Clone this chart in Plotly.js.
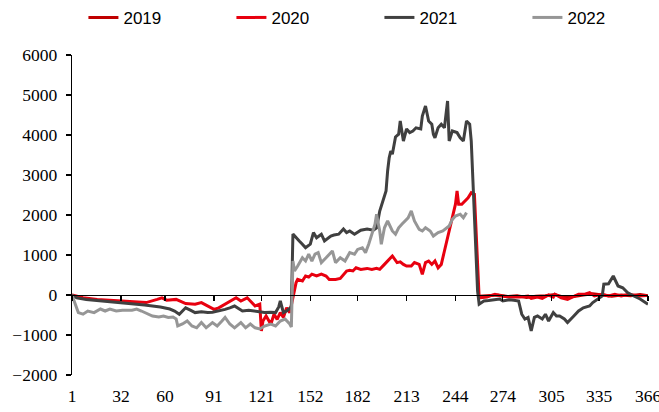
<!DOCTYPE html>
<html>
<head>
<meta charset="utf-8">
<script src="https://cdn.plot.ly/plotly-3.0.1.min.js"></script>
<style>html,body{margin:0;padding:0;background:#fff;}#chart{width:659px;height:412px;}</style>
</head>
<body>
<div id="chart"></div>
<script>
// Day-of-year tick labels
const tickDays = [1, 32, 60, 91, 121, 152, 182, 213, 244, 274, 305, 335, 366];
const tickLabels = ["1", "32", "60", "91", "121", "152", "182", "213", "244", "274", "305", "335", "366"];

const seriesNames = ["2019", "2020", "2021", "2022"];

// 2019
const days2019 = [259, 265, 271, 277, 283, 289, 295, 301, 307, 313, 319, 325, 331, 337, 343, 349, 355, 361, 366];
const vals2019 = [-30, -10, 0, -40, -20, -60, -30, -20, 10, -60, -40, 0, 30, 0, -30, 0, -20, 10, -20];

// 2020
const days2020 = [1, 8, 17, 25, 33, 42, 48, 55, 58, 61, 67, 73, 79, 83, 87, 91, 94, 98, 102, 105,
  108, 112, 114, 117, 120, 121, 122, 124, 127, 129, 131, 133, 135, 137, 139, 140, 142, 143, 144, 147,
  149, 151, 153, 156, 159, 162, 164, 168, 171, 173, 175, 177, 179, 181, 184, 188, 191, 194, 196, 199,
  202, 204, 207, 209, 211, 213, 216, 218, 221, 223, 225, 227, 229, 231, 233, 235, 237, 240, 242, 244,
  245, 246, 248, 250, 252, 254, 256, 259, 264, 269, 273, 279, 285, 290, 292, 296, 299, 303, 306, 307,
  311, 315, 319, 322, 326, 329, 332, 337, 341, 345, 349, 354, 360, 365];
const vals2020 = [0, -70, -110, -130, -150, -175, -190, -110, -70, -130, -110, -215, -230, -190, -275, -360, -320, -230, -150, -70,
  -150, -70, -150, -275, -230, -900, -650, -525, -730, -480, -610, -440, -560, -320, -440, -230, 100, 310, 390, 350,
  475, 450, 520, 475, 520, 475, 390, 390, 415, 520, 600, 615, 600, 680, 640, 665, 640, 665, 640, 765,
  890, 975, 810, 830, 765, 725, 725, 810, 765, 515, 810, 850, 765, 850, 680, 765, 1100, 1600, 1930, 2270,
  2600, 2270, 2270, 2350, 2430, 2560, 2520, -70, -50, 20, -25, -50, -50, -25, -85, -50, -85, 0, -50, 20,
  -70, -110, -25, 20, 20, 60, -25, 20, -25, 20, -25, 20, -25, -10];

// 2021
const days2021 = [1, 4, 10, 16, 21, 26, 31, 36, 42, 47, 52, 57, 63, 66, 69, 73, 76, 79, 83, 87,
  90, 94, 98, 101, 104, 107, 109, 113, 117, 120, 123, 127, 130, 132, 133, 134, 135, 137, 139, 140,
  141, 143, 145, 147, 149, 152, 154, 156, 159, 161, 165, 167, 170, 173, 175, 177, 180, 184, 188, 192,
  194, 196, 198, 200, 201, 202, 203, 204, 206, 208, 209, 210, 211, 213, 215, 217, 219, 222, 223, 225,
  227, 229, 230, 231, 233, 235, 237, 239, 240, 242, 245, 247, 249, 251, 253, 254, 256, 258, 259, 262,
  265, 268, 272, 274, 278, 281, 284, 286, 288, 290, 292, 294, 296, 299, 301, 303, 306, 308, 310, 313,
  315, 319, 322, 325, 329, 331, 334, 337, 338, 341, 344, 347, 350, 353, 357, 361, 366];
const vals2021 = [0, -70, -110, -130, -150, -170, -190, -200, -230, -250, -275, -300, -350, -400, -480, -320, -380, -440, -420, -440,
  -430, -400, -360, -320, -275, -350, -400, -380, -400, -420, -440, -430, -440, -300, -150, -300, -440, -400, -320, -300,
  1525, 1430, 1350, 1270, 1180, 1270, 1560, 1430, 1520, 1350, 1475, 1500, 1520, 1650, 1560, 1600, 1520, 1620, 1650, 1620,
  1680, 2100, 2350, 2600, 3100, 3430, 3600, 3520, 3950, 4020, 4350, 4100, 3850, 4150, 4060, 4100, 4180, 4150, 4475, 4725,
  4350, 4270, 4020, 3930, 4180, 4270, 4180, 4850, 3850, 4100, 4060, 3930, 3850, 4350, 4270, 3850, 1770, 100, -230, -150,
  -140, -130, -100, -150, -120, -130, -150, -480, -600, -560, -900, -560, -525, -600, -480, -650, -440, -525, -525, -600,
  -690, -525, -400, -320, -275, -190, -100, -25, 270, 280, 475, 225, 180, 60, -25, -100, -230];

// 2022
const days2022 = [1, 3, 5, 8, 11, 15, 19, 22, 25, 29, 33, 39, 42, 45, 49, 52, 56, 59, 62, 65,
  67, 68, 71, 74, 77, 80, 83, 86, 90, 93, 96, 98, 101, 104, 108, 111, 114, 117, 120, 123,
  127, 130, 133, 136, 139, 140, 141, 142, 144, 147, 149, 151, 153, 155, 157, 159, 162, 166, 168, 171,
  174, 177, 180, 182, 185, 187, 189, 191, 193, 194, 196, 197, 199, 201, 204, 206, 208, 210, 212, 214,
  216, 218, 221, 223, 225, 228, 230, 233, 236, 240, 242, 244, 247, 249, 251];
const vals2022 = [0, -200, -440, -480, -400, -440, -350, -400, -350, -400, -380, -380, -350, -400, -480, -525, -550, -525, -560, -550,
  -600, -775, -725, -650, -775, -820, -690, -820, -690, -775, -650, -560, -725, -820, -690, -820, -725, -820, -850, -775,
  -725, -775, -650, -600, -725, -800, 850, 600, 725, 930, 850, 1020, 850, 1020, 1060, 810, 930, 1100, 810, 930,
  850, 1060, 1020, 1140, 1180, 1060, 1270, 1520, 1770, 2020, 1600, 1270, 1680, 1850, 1600, 1520, 1680, 1770, 1850, 1930,
  2100, 1850, 1640, 1600, 1680, 1600, 1475, 1560, 1600, 1725, 1890, 1975, 2020, 1930, 2060];

const colors = ["#C00000", "#E8000F", "#404040", "#969696"];
const allDays = [days2019, days2020, days2021, days2022];
const allVals = [vals2019, vals2020, vals2021, vals2022];
// the last series is drawn on the overlaid label axis (same range) so it stays on top
const xAxisRef = ["x", "x", "x", "x2"];

const traces = seriesNames.map((name, i) => ({
  type: "scatter",
  mode: "lines",
  name: name,
  x: allDays[i],
  y: allVals[i],
  xaxis: xAxisRef[i],
  yaxis: "y",
  line: { color: colors[i], width: 3 },
  hoverinfo: "x+y+name"
}));

const tickFont = { family: "Liberation Serif, Times New Roman, serif", size: 17.5, color: "#000" };

const layout = {
  width: 659,
  height: 412,
  margin: { l: 72, r: 11, t: 55, b: 37, autoexpand: false },
  paper_bgcolor: "#fff",
  plot_bgcolor: "#fff",
  showlegend: true,
  legend: {
    orientation: "h",
    x: -0.001,
    xanchor: "left",
    y: 1.116,
    yanchor: "middle",
    indentation: 12,
    entrywidth: 91,
    entrywidthmode: "pixels",
    font: { family: "Liberation Sans, Arial, sans-serif", size: 17, color: "#000" },
    bgcolor: "rgba(0,0,0,0)"
  },
  // axis drawn along the zero value: line and tick marks only
  xaxis: {
    anchor: "free",
    position: 0.25,
    range: [1, 366],
    tickmode: "array",
    tickvals: tickDays,
    showticklabels: false,
    showline: true,
    linecolor: "#000",
    linewidth: 1.3,
    ticks: "outside",
    ticklen: 5,
    tickcolor: "#000",
    tickwidth: 1.3,
    showgrid: false,
    zeroline: false,
    fixedrange: true
  },
  // axis at the bottom carrying the day labels
  xaxis2: {
    overlaying: "x",
    anchor: "y",
    side: "bottom",
    range: [1, 366],
    tickmode: "array",
    tickvals: tickDays,
    ticktext: tickLabels,
    showline: false,
    ticks: "",
    showgrid: false,
    zeroline: false,
    tickfont: tickFont,
    ticklabelstandoff: 8,
    ticklabeloverflow: "allow",
    fixedrange: true
  },
  yaxis: {
    range: [-2000, 6000],
    tickmode: "linear",
    tick0: -2000,
    dtick: 1000,
    showline: true,
    linecolor: "#000",
    linewidth: 1.3,
    ticks: "outside",
    ticklen: 5,
    tickcolor: "#000",
    tickwidth: 1.3,
    showgrid: false,
    zeroline: false,
    tickfont: tickFont,
    ticklabelstandoff: 5,
    fixedrange: true
  }
};

Plotly.newPlot("chart", traces, layout, { displayModeBar: false, staticPlot: true });
</script>
</body>
</html>
